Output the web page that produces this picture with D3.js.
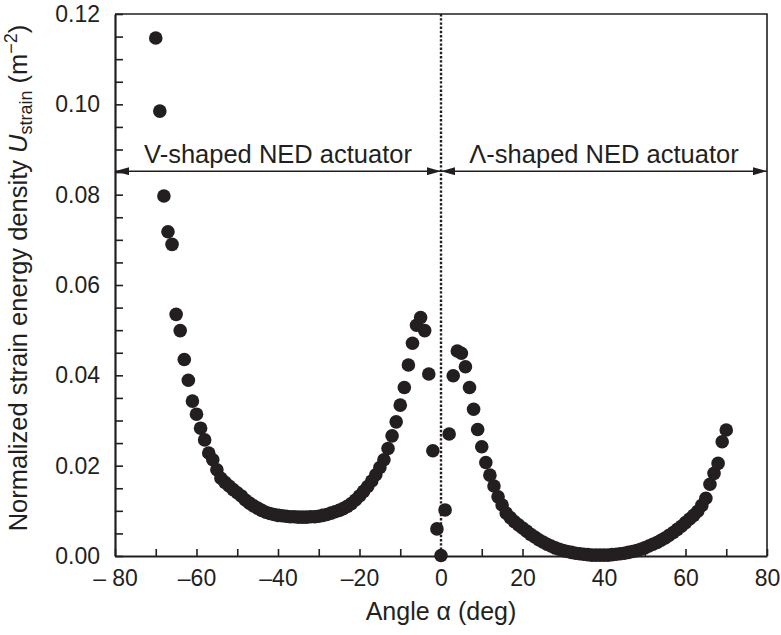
<!DOCTYPE html>
<html>
<head>
<meta charset="utf-8">
<script src="https://cdn.jsdelivr.net/npm/d3@7"></script>
<style>
  html, body { margin: 0; padding: 0; background: #fff; }
  svg { display: block; }
  text { font-family: "Liberation Sans", Arial, Helvetica, sans-serif; fill: #231f20; }
</style>
</head>
<body>
<svg id="chart" width="781" height="635"></svg>
<script>
// ---- data ----
const leftAngles = [-70,-69,-68,-67,-66,-65,-64,-63,-62,-61,-60,-59,-58,-57,-56,-55,-54,-53,-52,-51,-50,-49,-48,-47,-46,-45,-44,-43,-42,-41,-40,-39,-38,-37,-36,-35,-34,-33,-32,-31,-30,-29,-28,-27,-26,-25,-24,-23,-22,-21,-20,-19,-18,-17,-16,-15,-14,-13,-12,-11,-10,-9,-8,-7,-6,-5,-4,-3,-2,-1,0];
const leftValues = [0.1147,0.0985,0.0797,0.0718,0.0690,0.0535,0.0499,0.0435,0.0389,0.0343,0.0314,0.0283,0.0257,0.0228,0.0213,0.0191,0.0172,0.0163,0.0155,0.0147,0.0140,0.0133,0.0124,0.0117,0.0111,0.0106,0.0101,0.0097,0.0094,0.0092,0.0090,0.0089,0.0088,0.0087,0.0087,0.0086,0.0086,0.0086,0.0087,0.0087,0.0088,0.0090,0.0092,0.0095,0.0098,0.0101,0.0105,0.0110,0.0116,0.0124,0.0133,0.0143,0.0154,0.0166,0.0180,0.0196,0.0213,0.0238,0.0266,0.0297,0.0334,0.0373,0.0423,0.0471,0.0511,0.0528,0.0499,0.0403,0.0233,0.0060,0.0001];
const rightAngles = [1,2,3,4,5,6,7,8,9,10,11,12,13,14,15,16,17,18,19,20,21,22,23,24,25,26,27,28,29,30,31,32,33,34,35,36,37,38,39,40,41,42,43,44,45,46,47,48,49,50,51,52,53,54,55,56,57,58,59,60,61,62,63,64,65,66,67,68,69,70];
const rightValues = [0.0102,0.0270,0.0399,0.0454,0.0449,0.0419,0.0373,0.0325,0.0280,0.0242,0.0207,0.0179,0.0155,0.0131,0.0113,0.0095,0.0085,0.0076,0.0069,0.0062,0.0055,0.0048,0.0042,0.0036,0.0031,0.0026,0.0022,0.0018,0.0015,0.0012,0.0010,0.0008,0.0006,0.0005,0.0004,0.0003,0.0002,0.0002,0.0002,0.0002,0.0002,0.0003,0.0004,0.0005,0.0006,0.0008,0.0010,0.0012,0.0015,0.0018,0.0022,0.0026,0.0030,0.0035,0.0040,0.0046,0.0052,0.0059,0.0066,0.0074,0.0082,0.0090,0.0099,0.0112,0.0128,0.0159,0.0183,0.0205,0.0253,0.0279];
const xTickValues = [-80,-60,-40,-20,0,20,40,60,80];
const xTickLabels = ["\u2013 80","\u201360","\u201340","\u201320","0","20","40","60","80"];
const xMinorTicks = [-80,-70,-60,-50,-40,-30,-20,-10,0,10,20,30,40,50,60,70,80];
const yTickValues = [0,0.02,0.04,0.06,0.08,0.10,0.12];
const yTickLabels = ["0.00","0.02","0.04","0.06","0.08","0.10","0.12"];
const yMinorTicks = [0,0.005,0.01,0.015,0.02,0.025,0.03,0.035,0.04,0.045,0.05,0.055,0.06,0.065,0.07,0.075,0.08,0.085,0.09,0.095,0.10,0.105,0.11,0.115,0.12];
const regionLabels = ["V-shaped NED actuator", "\u039B-shaped NED actuator"];
const arrowLevel = 0.0852;

// ---- layout ----
const L = 115, R = 767, T = 14, B = 556;
const ink = "#231f20";
const svg = d3.select("#chart");
const x = d3.scaleLinear().domain([-80, 80]).range([L, R]);
const y = d3.scaleLinear().domain([0, 0.12]).range([B, T]);

// frame top/right
svg.append("path")
  .attr("d", `M${L},${T}H${R}V${B}`)
  .attr("fill", "none").attr("stroke", ink).attr("stroke-width", 1.6);

// minor ticks
svg.append("g").attr("transform", `translate(0,${B})`)
  .call(d3.axisBottom(x).tickValues(xMinorTicks).tickSize(-7).tickFormat(""))
  .call(g => g.select(".domain").remove())
  .call(g => g.selectAll("line").attr("stroke", ink).attr("stroke-width", 1.6));
svg.append("g").attr("transform", `translate(${L},0)`)
  .call(d3.axisLeft(y).tickValues(yMinorTicks).tickSize(-8).tickFormat(""))
  .call(g => g.select(".domain").remove())
  .call(g => g.selectAll("line").attr("stroke", ink).attr("stroke-width", 1.6));

// labelled axes
const xAxis = svg.append("g").attr("transform", `translate(0,${B})`)
  .call(d3.axisBottom(x).tickValues(xTickValues).tickSize(0).tickPadding(14)
    .tickFormat((d, i) => xTickLabels[i]));
xAxis.select(".domain").attr("stroke", ink).attr("stroke-width", 2.2);
xAxis.selectAll("text").attr("font-size", 23).attr("fill", ink)
  .style("font-family", '"Liberation Sans", Arial, sans-serif');

const yAxis = svg.append("g").attr("transform", `translate(${L},0)`)
  .call(d3.axisLeft(y).tickValues(yTickValues).tickSize(0).tickPadding(15)
    .tickFormat((d, i) => yTickLabels[i]));
yAxis.select(".domain").attr("stroke", ink).attr("stroke-width", 2.2);
yAxis.selectAll("text").attr("font-size", 23).attr("fill", ink)
  .style("font-family", '"Liberation Sans", Arial, sans-serif');

// dotted zero line
svg.append("line")
  .attr("x1", x(0)).attr("x2", x(0)).attr("y1", T).attr("y2", B)
  .attr("stroke", ink).attr("stroke-width", 2.4).attr("stroke-dasharray", "2.4,1.8");

// arrows
const defs = svg.append("defs");
defs.append("marker").attr("id", "ah").attr("viewBox", "0 0 14 8")
  .attr("refX", 14).attr("refY", 4).attr("markerWidth", 14).attr("markerHeight", 8)
  .attr("markerUnits", "userSpaceOnUse").attr("orient", "auto-start-reverse")
  .append("path").attr("d", "M0,0L14,4L0,8Z").attr("fill", ink);

const spans = [[-80, 0], [0, 80]];
spans.forEach((s, i) => {
  svg.append("line")
    .attr("x1", x(s[0])).attr("x2", x(s[1]))
    .attr("y1", y(arrowLevel)).attr("y2", y(arrowLevel))
    .attr("stroke", ink).attr("stroke-width", 1.6)
    .attr("marker-start", "url(#ah)").attr("marker-end", "url(#ah)");
  svg.append("text")
    .attr("x", (x(s[0]) + x(s[1])) / 2).attr("y", y(arrowLevel) - 8)
    .attr("text-anchor", "middle").attr("font-size", 25.5)
    .text(regionLabels[i]);
});

// points
const pts = leftAngles.map((a, i) => ({a, v: leftValues[i]}))
  .concat(rightAngles.map((a, i) => ({a, v: rightValues[i]})));
svg.append("g").selectAll("circle").data(pts).join("circle")
  .attr("cx", d => x(d.a)).attr("cy", d => y(d.v)).attr("r", 6.8)
  .attr("fill", ink);

// axis titles
svg.append("text")
  .attr("x", x(0)).attr("y", 620).attr("text-anchor", "middle").attr("font-size", 25)
  .text("Angle \u03B1 (deg)");

const yt = svg.append("text")
  .attr("transform", "translate(27,278) rotate(-90)")
  .attr("text-anchor", "middle").attr("font-size", 25.5);
yt.append("tspan").text("Normalized strain energy density ");
yt.append("tspan").attr("font-style", "italic").text("U");
yt.append("tspan").attr("font-size", 18).attr("dy", 5).text("strain");
yt.append("tspan").attr("dy", -5).text(" (m");
yt.append("tspan").attr("font-size", 18).attr("dy", -10).text("\u22122");
yt.append("tspan").attr("dy", 10).text(")");
</script>
</body>
</html>
